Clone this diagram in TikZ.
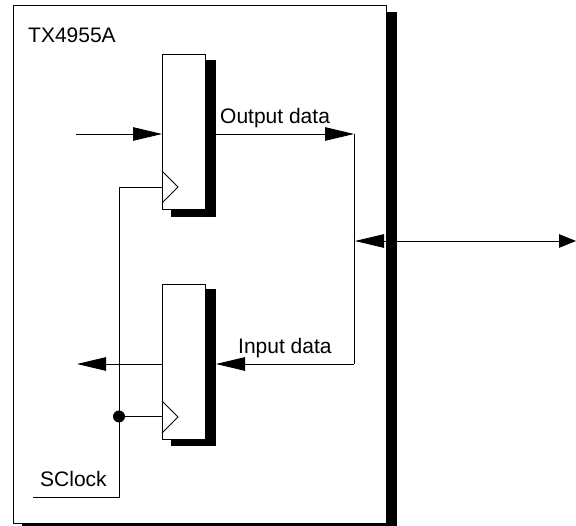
\documentclass[tikz,border=0pt]{standalone}
\usepackage{fontspec}
\setmainfont{Liberation Sans}
\usetikzlibrary{arrows.meta}

\tikzset{
  box/.style={draw, fill=white, line width=0.9pt, inner sep=0pt, rectangle},
  shade/.style={fill=black},
  wire/.style={line width=0.9pt},
  bigtip/.style={-{Triangle[length=29pt,width=13.5pt]}},
  txt/.style={inner sep=0pt, anchor=base west, font=\fontsize{21}{24}\selectfont},
}

\begin{document}
\begin{tikzpicture}[x=1pt,y=-1pt]
\useasboundingbox (0,0) rectangle (576,526);

% black offset behind each box
\fill[shade] (22,12) rectangle (397,526);
\node[box, minimum width=373pt, minimum height=517.5pt] (chip) at (199.5,264.25) {};
\fill[shade] (171,60) rectangle (216,217);
\fill[shade] (171,289) rectangle (216,446);

\node[box, minimum width=43pt, minimum height=155pt] (regout) at (183.5,131.5) {};
\node[box, minimum width=43pt, minimum height=155pt] (regin) at (183.5,361.5) {};

% clock marks
\foreach \yc in {187, 417}{
  \draw[wire] (162,\yc-16) -- (178,\yc) -- (162,\yc+16);
}

\node[txt] (chipname) at (28,43) {TX4955A};
\node[txt] (outlabel) at (220,124) {Output data};
\node[txt] (inlabel) at (238,354) {Input data};
\node[txt] (clklabel) at (40,487) {SClock};

\coordinate (din) at (76,134);
\coordinate (regoutw) at (162,134);
\coordinate (regoute) at (205,134);
\coordinate (joinup) at (354,134);
\coordinate (joindown) at (354,364);
\coordinate (inback) at (216,364);
\coordinate (reginw) at (162,364);
\coordinate (dout) at (77,364);
\coordinate (bustip) at (355,241);
\coordinate (padtip) at (576,241);
\coordinate (clkin) at (33,497);
\coordinate (clkcorner) at (119,497);
\coordinate (clktop) at (119,187);
\coordinate (clkreg) at (162,187);
\coordinate (clkdot) at (119,416.5);
\coordinate (clkregb) at (162,416.5);

\draw[wire, bigtip] (din) -- (regoutw);
\draw[wire, bigtip] (regoute) -- (joinup);
\draw[wire] (joinup) -- (joindown);
\draw[wire, bigtip] (joindown) -- (inback);
\draw[wire, bigtip] (reginw) -- (dout);
\draw[wire, {Triangle[length=29pt,width=13.5pt]}-{Triangle[length=17pt,width=13.5pt]}] (bustip) -- (padtip);

\draw[wire] (clkin) -- (clkcorner) -- (clktop) -- (clkreg);
\draw[wire] (clkdot) -- (clkregb);
\fill (clkdot) circle (6pt);

\end{tikzpicture}
\end{document}
